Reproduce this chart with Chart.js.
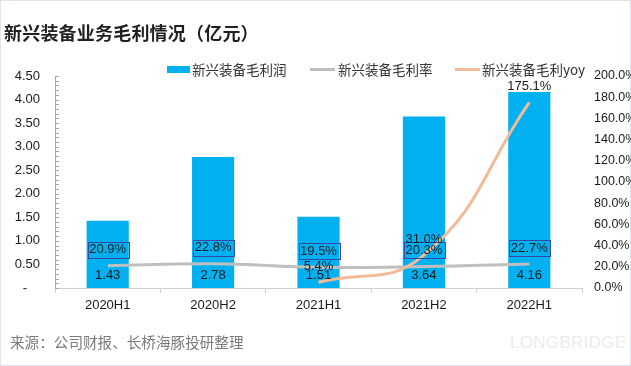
<!DOCTYPE html>
<html><head><meta charset="utf-8">
<script src="https://cdn.jsdelivr.net/npm/chart.js@4.4.1/dist/chart.umd.min.js"></script>
<style>
html,body{margin:0;padding:0;background:#fff;}
body{width:631px;height:366px;position:relative;overflow:hidden;font-family:"Noto Sans CJK SC","Noto Sans",sans-serif;}
#frame{position:absolute;left:0;top:0;width:629px;height:364px;border:1px solid #dfe5ec;}
#title{position:absolute;left:4px;top:19px;font-size:18px;font-weight:bold;color:#1f1f1f;letter-spacing:0.2px;}
.lg{position:absolute;top:60px;font-size:13.5px;color:#333;line-height:18px;}
.sw{position:absolute;}
#src{position:absolute;left:10px;top:331px;font-size:14.6px;color:#7a7a7a;}
#wm{position:absolute;left:510px;top:333px;font-size:17px;color:#ececec;font-family:"Liberation Sans",sans-serif;letter-spacing:0.3px;}
canvas{position:absolute;left:0;top:0;}
</style></head>
<body>
<div id="frame"></div>
<div id="wm">LONGBRIDGE</div>
<canvas id="c" width="631" height="366"></canvas>
<div id="title">新兴装备业务毛利情况（亿元）</div>
<div class="sw" style="left:167px;top:66px;width:23px;height:7px;background:#00B0F0"></div>
<div class="lg" style="left:192px">新兴装备毛利润</div>
<div class="sw" style="left:310px;top:68px;width:25px;height:3px;background:#BFBFBF"></div>
<div class="lg" style="left:338px">新兴装备毛利率</div>
<div class="sw" style="left:455px;top:68px;width:25px;height:3px;background:#F2BB98"></div>
<div class="lg" style="left:482px">新兴装备毛利yoy</div>
<div id="src">来源：公司财报、长桥海豚投研整理</div>
<script>
const categories = ["2020H1","2020H2","2021H1","2021H2","2022H1"];
const grossProfit = [1.43, 2.78, 1.51, 3.64, 4.16];
const grossMargin = [20.9, 22.8, 19.5, 20.3, 22.7];
const grossProfitYoy = [null, null, 5.4, 31.0, 175.1];
const leftTicks = [0, 0.5, 1.0, 1.5, 2.0, 2.5, 3.0, 3.5, 4.0, 4.5];
const rightTicks = [0,20,40,60,80,100,120,140,160,180,200];

const numFont = '"Liberation Sans", "Noto Sans", sans-serif';

const labelPlugin = {
  id: 'labels',
  afterDatasetsDraw(chart) {
    const ctx = chart.ctx;
    ctx.save();
    ctx.font = '13px ' + numFont;
    ctx.textAlign = 'center';
    ctx.textBaseline = 'middle';
    const yL = chart.scales.y;
    chart.getDatasetMeta(0).data.forEach((el, i) => {
      ctx.fillStyle = '#1a1a1a';
      ctx.fillText(grossProfit[i].toFixed(2), el.x, yL.getPixelForValue(0) - 13);
    });
    chart.getDatasetMeta(1).data.forEach((el, i) => {
      const y = el.y - 16;
      ctx.strokeStyle = '#34489f';
      ctx.lineWidth = 1;
      ctx.strokeRect(Math.round(el.x - 20) + 0.5, Math.round(y - 8) + 0.5, 41, 16);
      ctx.fillStyle = '#1a1a1a';
      ctx.fillText(grossMargin[i].toFixed(1) + '%', el.x, y);
    });
    chart.getDatasetMeta(2).data.forEach((el, i) => {
      if (grossProfitYoy[i] == null) return;
      ctx.fillStyle = '#1a1a1a';
      ctx.fillText(grossProfitYoy[i].toFixed(1) + '%', el.x, el.y - 16);
    });
    ctx.strokeStyle = '#a6a6a6';
    ctx.lineWidth = 1;
    const x0 = chart.chartArea.left;
    for (let k = 0; k <= 45; k++) {
      const py = Math.round(yL.getPixelForValue(k / 10)) + 0.5;
      ctx.beginPath(); ctx.moveTo(x0, py); ctx.lineTo(x0 + 4, py); ctx.stroke();
    }
    ctx.restore();
  }
};

new Chart(document.getElementById('c'), {
  data: {
    labels: categories,
    datasets: [
      { type: 'bar', label: '新兴装备毛利润', data: grossProfit, backgroundColor: '#00B0F0',
        yAxisID: 'y', barPercentage: 0.8, categoryPercentage: 0.5, order: 3 },
      { type: 'line', label: '新兴装备毛利率', data: grossMargin, borderColor: '#BFBFBF',
        borderWidth: 3, pointRadius: 0, tension: 0.4, yAxisID: 'y1', order: 2 },
      { type: 'line', label: '新兴装备毛利yoy', data: grossProfitYoy, borderColor: '#F2BB98',
        borderWidth: 3, pointRadius: 0, tension: 0.45, yAxisID: 'y1', order: 1, spanGaps: false }
    ]
  },
  options: {
    responsive: false,
    animation: false,
    layout: { padding: { top: 76, left: 0, right: 0, bottom: 0 } },
    plugins: { legend: { display: false }, title: { display: false }, tooltip: { enabled: false } },
    scales: {
      x: {
        offset: true,
        grid: { display: true, drawOnChartArea: false, offset: true, tickLength: 5, color: '#d0d0d0' },
        border: { color: '#d0d0d0' },
        ticks: { color: '#1a1a1a', font: { size: 13, family: numFont }, padding: 5 },
        afterFit(s) { s.height = 78; }
      },
      y: {
        position: 'left', min: 0, max: 4.5,
        afterBuildTicks(s) { s.ticks = leftTicks.map(v => ({ value: v })); },
        grid: { display: false, drawTicks: false },
        border: { display: true, color: '#a6a6a6' },
        ticks: { color: '#1a1a1a', font: { size: 13, family: numFont }, padding: 15,
          callback: v => v === 0 ? '-\u2002\u2002' : v.toFixed(2) },
        afterFit(s) { s.width = 55; }
      },
      y1: {
        position: 'right', min: 0, max: 200,
        afterBuildTicks(s) { s.ticks = rightTicks.map(v => ({ value: v })); },
        grid: { display: false, drawTicks: false },
        border: { display: false },
        ticks: { color: '#1a1a1a', font: { size: 12.5, family: numFont }, padding: 12,
          callback: v => v.toFixed(1) + '%' },
        afterFit(s) { s.width = 49; }
      }
    }
  },
  plugins: [labelPlugin]
});
</script>
</body></html>
